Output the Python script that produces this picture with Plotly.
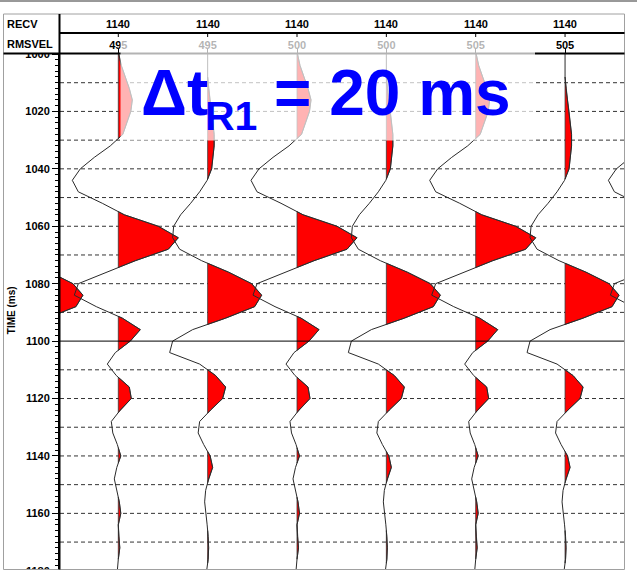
import plotly.graph_objects as go

# ---------------- data ----------------
sample_ms = list(range(1000, 1184, 4))  # 4 ms sampling, 1000..1180

# wavelet shapes (amplitude units)
wavelet_a = [0.5, 3, 7, 11, 14, 12.5, 8.5, 4.5, -8, -24, -38, -46, -40, -16, 6, 40,
             60, 50, 17, -12, -40, -44, -22, 4, 22, 12, -3, -11, -2, 11, 13, 2,
             -7, -5.5, -1, 2.5, -1.5, -4, -1.5, 1, 2.5, 0, 0.5, 1.5, 0, -1]
wavelet_b = [0, 0, 0, 1, 2.5, 4, 5.5, 6.5, 6.5, 5.5, 4, -0.5, -8, -17, -27, -34,
             -35, -28, -6, 21, 44, 54, 47, 18, -15, -35, -38, -8, 8, 18, 15, 3,
             -8, -9.5, -4, 2.5, 5, 1, -2, -3, -1.5, -0.5, 0.5, 1, 0.5, -1]

trace_numbers = [0, 1, 2, 3, 4, 5, 6, 7]
trace_wavelet = ["b", "a", "b", "a", "b", "a", "b", "a"]
labelled_traces = [1, 2, 3, 4, 5, 6]
recv_labels = ["1140", "1140", "1140", "1140", "1140", "1140"]
rmsvel_labels = ["495", "495", "500", "500", "505", "505"]
time_ticks_minor = 2
grid_ms = [1010, 1020, 1030, 1040, 1050, 1060, 1070, 1080, 1090,
           1110, 1120, 1130, 1140, 1150, 1160, 1170]
solid_ms = 1100

# ---------------- layout geometry ----------------
W, H = 637, 581
L, R, T, B = 60, 13, 54, 9
PW, PH = W - L - R, H - T - B
SPACING = 89.35          # px between traces
X1 = 118.3               # px of trace 1
PX_PER_MS = 2.871
GAIN = 1.0 / SPACING     # amplitude unit -> trace units

x_range = [1 - (X1 - L) / SPACING, 1 + (L + PW - X1) / SPACING]
y_range = [1000 + PH / PX_PER_MS, 1000]


def px(x):
    return (x - L) / PW


def py(y):
    return 1 - (y - T) / PH


FONT = "Arial, Liberation Sans, sans-serif"
wavelets = {"a": wavelet_a, "b": wavelet_b}


def positive_lobes(ts, amps):
    pts = []
    for i, (t, a) in enumerate(zip(ts, amps)):
        if i > 0:
            tp, ap = ts[i - 1], amps[i - 1]
            if ap * a < 0:
                pts.append((tp + (t - tp) * ap / (ap - a), 0.0))
        pts.append((t, a))
    lobes, cur, prev = [], [], None
    for t, a in pts:
        if a > 0:
            if not cur:
                cur = [(prev[0] if prev is not None else t, 0.0)]
            cur.append((t, a))
        elif cur:
            cur.append((t, 0.0))
            lobes.append(cur)
            cur = []
        prev = (t, a)
    if cur:
        cur.append((cur[-1][0], 0.0))
        lobes.append(cur)
    return lobes


fig = go.Figure()

# variable-area fills
for n, w in zip(trace_numbers, trace_wavelet):
    xs, ys = [], []
    for lobe in positive_lobes(sample_ms, wavelets[w]):
        xs += [n + a * GAIN for t, a in lobe] + [n + lobe[0][1] * GAIN, None]
        ys += [t for t, a in lobe] + [lobe[0][0], None]
    fig.add_trace(go.Scatter(x=xs, y=ys, mode="lines", fill="toself",
                             fillcolor="#ff0000",
                             line=dict(color="#3a3a3a", width=0.8),
                             hoverinfo="skip", showlegend=False))

# wiggle lines
for n, w in zip(trace_numbers, trace_wavelet):
    fig.add_trace(go.Scatter(x=[n + a * GAIN for a in wavelets[w]], y=sample_ms,
                             mode="lines", line=dict(color="#2a2a2a", width=1),
                             hoverinfo="skip", showlegend=False))

shapes = []
for g in grid_ms:
    shapes.append(dict(type="line", xref="paper", yref="y", x0=0, x1=1, y0=g, y1=g,
                       line=dict(color="#333333", width=1, dash="4px,3px"),
                       layer="below"))
shapes.append(dict(type="line", xref="paper", yref="y", x0=0, x1=1,
                   y0=solid_ms, y1=solid_ms,
                   line=dict(color="#000000", width=1), layer="above"))
# white covers (header / bottom)
shapes.append(dict(type="rect", xref="paper", yref="paper", x0=px(0), x1=px(59),
                   y0=py(53.5), y1=py(14), fillcolor="white", line=dict(width=0),
                   layer="above"))
shapes.append(dict(type="rect", xref="paper", yref="paper", x0=px(0), x1=px(W),
                   y0=py(H), y1=py(569.5), fillcolor="white", line=dict(width=0),
                   layer="above"))
# outer top line
shapes.append(dict(type="line", xref="paper", yref="paper", x0=px(0), x1=px(W),
                   y0=py(1), y1=py(1), line=dict(color="#333333", width=1),
                   layer="above"))
# panel border
shapes.append(dict(type="rect", xref="paper", yref="paper", x0=px(3.5), x1=px(624.5),
                   y0=py(569.5), y1=py(14), line=dict(color="#a0a0a0", width=1),
                   layer="above"))
# header lines
shapes.append(dict(type="line", xref="paper", yref="paper", x0=px(59.5), x1=px(624.5),
                   y0=py(33), y1=py(33), line=dict(color="black", width=2),
                   layer="above"))
shapes.append(dict(type="line", xref="paper", yref="paper", x0=px(3.5), x1=px(624.5),
                   y0=py(53.5), y1=py(53.5), line=dict(color="black", width=2),
                   layer="above"))
shapes.append(dict(type="line", xref="paper", yref="paper", x0=px(59.5), x1=px(59.5),
                   y0=py(14), y1=py(569.5), line=dict(color="black", width=2),
                   layer="above"))
for n in labelled_traces:
    shapes.append(dict(type="line", xref="x", yref="paper", x0=n, x1=n,
                       y0=py(33), y1=py(37), line=dict(color="black", width=1),
                       layer="above"))
# translucent white box behind the annotation text
shapes.append(dict(type="rect", xref="paper", yref="paper", x0=px(120.5), x1=px(535),
                   y0=py(140.5), y1=py(37), fillcolor="rgba(255,255,255,0.7)",
                   line=dict(width=0), layer="above"))

annotations = [
    dict(text="<b>RECV</b>", xref="paper", yref="paper", x=px(5), y=py(24),
         xanchor="left", yanchor="middle", showarrow=False,
         font=dict(family=FONT, size=11, color="black")),
    dict(text="<b>RMSVEL</b>", xref="paper", yref="paper", x=px(5), y=py(43.5),
         xanchor="left", yanchor="middle", showarrow=False,
         font=dict(family=FONT, size=11, color="black")),
    dict(text="<b>TIME (ms)</b>", xref="paper", yref="paper", x=px(11.7), y=py(310.5),
         xanchor="center", yanchor="middle", showarrow=False, textangle=-90,
         font=dict(family=FONT, size=10, color="black")),
]
for n, lab in zip(labelled_traces, recv_labels):
    annotations.append(dict(text="<b>%s</b>" % lab, xref="x", yref="paper", x=n,
                            y=py(24), xanchor="center", yanchor="middle",
                            showarrow=False,
                            font=dict(family=FONT, size=11, color="black")))

BLUE = "#0000ff"
annotations += [
    dict(text="<b>Δt</b>", xref="paper", yref="paper", x=px(139), y=py(131),
         xanchor="left", yanchor="bottom", showarrow=False,
         font=dict(family=FONT, size=64, color=BLUE)),
    dict(text="<b>R1</b>", xref="paper", yref="paper", x=px(203), y=py(140.5),
         xanchor="left", yanchor="bottom", showarrow=False,
         font=dict(family=FONT, size=41, color=BLUE)),
    dict(text="<b>= 20 ms</b>", xref="paper", yref="paper", x=px(272), y=py(131),
         xanchor="left", yanchor="bottom", showarrow=False,
         font=dict(family=FONT, size=64, color=BLUE)),
]

fig.update_layout(
    width=W, height=H,
    margin=dict(l=L, r=R, t=T, b=B, pad=0, autoexpand=False),
    paper_bgcolor="white", plot_bgcolor="white",
    showlegend=False,
    shapes=shapes, annotations=annotations,
    xaxis=dict(range=x_range, side="top", tickmode="array",
               tickvals=labelled_traces, ticktext=rmsvel_labels,
               ticks="outside", ticklen=4, tickwidth=1, tickcolor="black",
               ticklabelstandoff=-4,
               tickfont=dict(family=FONT, size=11, color="black", weight="bold"),
               showline=False, showgrid=False, zeroline=False, fixedrange=True,
               automargin=False),
    yaxis=dict(range=y_range, tickmode="linear", tick0=1000, dtick=20,
               ticks="outside", ticklen=6, tickwidth=1, tickcolor="black",
               minor=dict(dtick=time_ticks_minor, tick0=1000, ticks="outside",
                          ticklen=3, tickwidth=1, tickcolor="black", showgrid=False),
               tickfont=dict(family=FONT, size=11, color="black", weight="bold"),
               showline=True, linecolor="black", linewidth=2,
               showgrid=False, zeroline=False, fixedrange=True,
               automargin=False),
)

fig.write_html("out.html", config={"displayModeBar": False},
               post_script="document.body.style.margin='0px';"
                           "document.body.style.overflow='hidden';")
